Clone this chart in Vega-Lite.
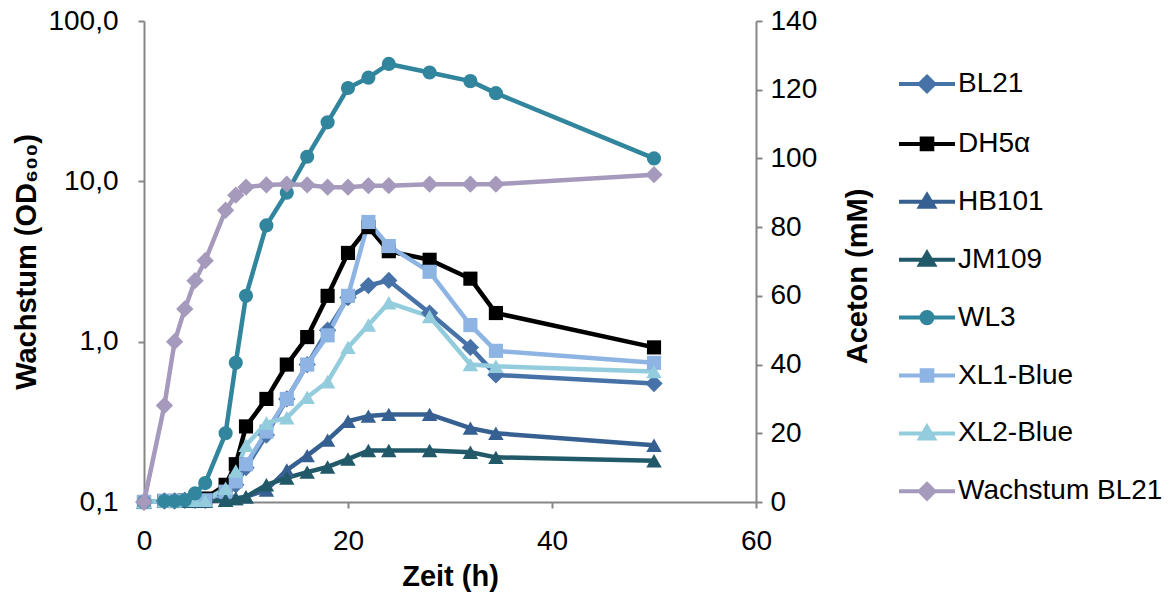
{
  "$schema": "https://vega.github.io/schema/vega-lite/v6.json",
  "width": 612,
  "height": 481,
  "autosize": {"type": "none"},
  "padding": {"left": 144, "top": 21, "right": 415, "bottom": 96},
  "background": "white",
  "config": {
    "view": {"stroke": null},
    "font": "Liberation Sans",
    "axis": {"domainColor": "#868686", "tickColor": "#868686", "domainWidth": 2, "tickWidth": 2, "tickSize": 6, "labelFont": "Liberation Sans", "labelFontSize": 28, "labelColor": "#000000", "titleFont": "Liberation Sans", "titleFontSize": 29, "titleFontWeight": "bold", "titleColor": "#000000", "grid": false, "labelFlush": false, "labelOverlap": false},
    "legend": {"orient": "none", "legendX": 753, "legendY": 33, "title": null, "padding": 0, "labelFont": "Liberation Sans", "labelFontSize": 28, "labelColor": "#000000", "labelOffset": 1, "rowPadding": 13.9, "symbolSize": 3136, "symbolStrokeWidth": 4, "symbolOpacity": 1, "labelLimit": 400}
  },
  "datasets": {
    "d": [
      {"s":"BL21","t":0,"v":0},{"s":"BL21","t":2,"v":0.3},{"s":"BL21","t":3,"v":0.3},{"s":"BL21","t":4,"v":0.5},{"s":"BL21","t":5,"v":0.5},{"s":"BL21","t":6,"v":0.5},{"s":"BL21","t":8,"v":2},{"s":"BL21","t":9,"v":5},{"s":"BL21","t":10,"v":10},{"s":"BL21","t":12,"v":19.5},{"s":"BL21","t":14,"v":30},{"s":"BL21","t":16,"v":40},{"s":"BL21","t":18,"v":50},{"s":"BL21","t":20,"v":59.5},{"s":"BL21","t":22,"v":63},{"s":"BL21","t":24,"v":64.5},{"s":"BL21","t":28,"v":55},{"s":"BL21","t":32,"v":45},{"s":"BL21","t":34.5,"v":37},{"s":"BL21","t":50,"v":34.5},
      {"s":"DH5α","t":0,"v":0},{"s":"DH5α","t":2,"v":0.3},{"s":"DH5α","t":3,"v":0.3},{"s":"DH5α","t":4,"v":0.5},{"s":"DH5α","t":5,"v":0.5},{"s":"DH5α","t":6,"v":1},{"s":"DH5α","t":8,"v":5},{"s":"DH5α","t":9,"v":11},{"s":"DH5α","t":10,"v":22},{"s":"DH5α","t":12,"v":30},{"s":"DH5α","t":14,"v":40},{"s":"DH5α","t":16,"v":48},{"s":"DH5α","t":18,"v":60},{"s":"DH5α","t":20,"v":72.5},{"s":"DH5α","t":22,"v":80},{"s":"DH5α","t":24,"v":73},{"s":"DH5α","t":28,"v":70.5},{"s":"DH5α","t":32,"v":65},{"s":"DH5α","t":34.5,"v":55},{"s":"DH5α","t":50,"v":45},
      {"s":"HB101","t":0,"v":0},{"s":"HB101","t":2,"v":0.3},{"s":"HB101","t":3,"v":0.3},{"s":"HB101","t":4,"v":0.3},{"s":"HB101","t":5,"v":0.3},{"s":"HB101","t":6,"v":0.3},{"s":"HB101","t":8,"v":0.5},{"s":"HB101","t":9,"v":1},{"s":"HB101","t":10,"v":1.5},{"s":"HB101","t":12,"v":3.5},{"s":"HB101","t":14,"v":9.3},{"s":"HB101","t":16,"v":13.5},{"s":"HB101","t":18,"v":18},{"s":"HB101","t":20,"v":23.5},{"s":"HB101","t":22,"v":25},{"s":"HB101","t":24,"v":25.5},{"s":"HB101","t":28,"v":25.5},{"s":"HB101","t":32,"v":21.5},{"s":"HB101","t":34.5,"v":20},{"s":"HB101","t":50,"v":16.5},
      {"s":"JM109","t":0,"v":0},{"s":"JM109","t":2,"v":0.3},{"s":"JM109","t":3,"v":0.3},{"s":"JM109","t":4,"v":0.3},{"s":"JM109","t":5,"v":0.3},{"s":"JM109","t":6,"v":0.3},{"s":"JM109","t":8,"v":0.5},{"s":"JM109","t":9,"v":1},{"s":"JM109","t":10,"v":1.5},{"s":"JM109","t":12,"v":5},{"s":"JM109","t":14,"v":7},{"s":"JM109","t":16,"v":8.7},{"s":"JM109","t":18,"v":10.2},{"s":"JM109","t":20,"v":12.5},{"s":"JM109","t":22,"v":15},{"s":"JM109","t":24,"v":15},{"s":"JM109","t":28,"v":15},{"s":"JM109","t":32,"v":14.5},{"s":"JM109","t":34.5,"v":13},{"s":"JM109","t":50,"v":12},
      {"s":"WL3","t":0,"v":0},{"s":"WL3","t":2,"v":0.3},{"s":"WL3","t":3,"v":0.3},{"s":"WL3","t":4,"v":0.5},{"s":"WL3","t":5,"v":2.5},{"s":"WL3","t":6,"v":5.5},{"s":"WL3","t":8,"v":20},{"s":"WL3","t":9,"v":40.5},{"s":"WL3","t":10,"v":60},{"s":"WL3","t":12,"v":80.5},{"s":"WL3","t":14,"v":90},{"s":"WL3","t":16,"v":100.5},{"s":"WL3","t":18,"v":110.5},{"s":"WL3","t":20,"v":120.5},{"s":"WL3","t":22,"v":123.5},{"s":"WL3","t":24,"v":127.5},{"s":"WL3","t":28,"v":125},{"s":"WL3","t":32,"v":122.5},{"s":"WL3","t":34.5,"v":119},{"s":"WL3","t":50,"v":100},
      {"s":"XL1-Blue","t":0,"v":0},{"s":"XL1-Blue","t":2,"v":0.3},{"s":"XL1-Blue","t":3,"v":0.3},{"s":"XL1-Blue","t":4,"v":0.5},{"s":"XL1-Blue","t":5,"v":0.5},{"s":"XL1-Blue","t":6,"v":0.5},{"s":"XL1-Blue","t":8,"v":3},{"s":"XL1-Blue","t":9,"v":6},{"s":"XL1-Blue","t":10,"v":11},{"s":"XL1-Blue","t":12,"v":20.5},{"s":"XL1-Blue","t":14,"v":30},{"s":"XL1-Blue","t":16,"v":40},{"s":"XL1-Blue","t":18,"v":48.5},{"s":"XL1-Blue","t":20,"v":60},{"s":"XL1-Blue","t":22,"v":81.5},{"s":"XL1-Blue","t":24,"v":74.5},{"s":"XL1-Blue","t":28,"v":67},{"s":"XL1-Blue","t":32,"v":51.5},{"s":"XL1-Blue","t":34.5,"v":44},{"s":"XL1-Blue","t":50,"v":40.5},
      {"s":"XL2-Blue","t":0,"v":0},{"s":"XL2-Blue","t":2,"v":0.3},{"s":"XL2-Blue","t":3,"v":0.3},{"s":"XL2-Blue","t":4,"v":0.5},{"s":"XL2-Blue","t":5,"v":0.5},{"s":"XL2-Blue","t":6,"v":0.5},{"s":"XL2-Blue","t":8,"v":4},{"s":"XL2-Blue","t":9,"v":9},{"s":"XL2-Blue","t":10,"v":16.5},{"s":"XL2-Blue","t":12,"v":23},{"s":"XL2-Blue","t":14,"v":24.5},{"s":"XL2-Blue","t":16,"v":30.5},{"s":"XL2-Blue","t":18,"v":35},{"s":"XL2-Blue","t":20,"v":45},{"s":"XL2-Blue","t":22,"v":51.5},{"s":"XL2-Blue","t":24,"v":58},{"s":"XL2-Blue","t":28,"v":54},{"s":"XL2-Blue","t":32,"v":40},{"s":"XL2-Blue","t":34.5,"v":39.5},{"s":"XL2-Blue","t":50,"v":38},
      {"s":"Wachstum BL21","t":0,"v":0.1},{"s":"Wachstum BL21","t":2,"v":0.4},{"s":"Wachstum BL21","t":3,"v":1.0},{"s":"Wachstum BL21","t":4,"v":1.6},{"s":"Wachstum BL21","t":5,"v":2.4},{"s":"Wachstum BL21","t":6,"v":3.2},{"s":"Wachstum BL21","t":8,"v":6.6},{"s":"Wachstum BL21","t":9,"v":8.2},{"s":"Wachstum BL21","t":10,"v":9.2},{"s":"Wachstum BL21","t":12,"v":9.5},{"s":"Wachstum BL21","t":14,"v":9.6},{"s":"Wachstum BL21","t":16,"v":9.5},{"s":"Wachstum BL21","t":18,"v":9.2},{"s":"Wachstum BL21","t":20,"v":9.2},{"s":"Wachstum BL21","t":22,"v":9.4},{"s":"Wachstum BL21","t":24,"v":9.4},{"s":"Wachstum BL21","t":28,"v":9.6},{"s":"Wachstum BL21","t":32,"v":9.6},{"s":"Wachstum BL21","t":34.5,"v":9.6},{"s":"Wachstum BL21","t":50,"v":11.0}
    ]
  },
  "data": {"name": "d"},
  "layer": [
    {
      "transform": [{"filter": "datum.s != 'Wachstum BL21'"}],
      "encoding": {
        "x": {"field": "t", "type": "quantitative", "scale": {"domain": [0, 60], "nice": false}, "axis": {"values": [0, 20, 40, 60], "title": "Zeit (h)", "labelPadding": 19, "titlePadding": 7}},
        "y": {"field": "v", "type": "quantitative", "scale": {"domain": [0, 140], "nice": false}, "axis": {"orient": "right", "values": [0, 20, 40, 60, 80, 100, 120, 140], "title": "Aceton (mM)", "labelPadding": 8, "titlePadding": 56, "titleAngle": 270, "titleY": 255}}
      },
      "layer": [
        {"mark": {"type": "line", "strokeWidth": 4.5, "strokeJoin": "round"},
         "encoding": {"color": {"field": "s", "type": "nominal", "legend": null, "scale": {"domain": ["Wachstum BL21", "BL21", "DH5α", "HB101", "JM109", "WL3", "XL1-Blue", "XL2-Blue"], "range": ["#A599BC", "#4672A8", "#000000", "#376092", "#215968", "#31859C", "#8EB4E3", "#93CDDD"]}}}},
        {"transform": [{"filter": {"field": "s", "oneOf": ["BL21"]}}],
         "mark": {"type": "point", "shape": "diamond", "filled": true, "size": 300, "opacity": 1},
         "encoding": {"color": {"field": "s", "type": "nominal", "legend": null}}},
        {"transform": [{"filter": {"field": "s", "oneOf": ["DH5α", "XL1-Blue"]}}],
         "mark": {"type": "point", "shape": "square", "filled": true, "size": 200, "opacity": 1},
         "encoding": {"color": {"field": "s", "type": "nominal", "legend": null}}},
        {"transform": [{"filter": {"field": "s", "oneOf": ["HB101", "JM109", "XL2-Blue"]}}],
         "mark": {"type": "point", "shape": "triangle-up", "filled": true, "size": 240, "opacity": 1},
         "encoding": {"color": {"field": "s", "type": "nominal", "legend": null}}},
        {"transform": [{"filter": {"field": "s", "oneOf": ["WL3"]}}],
         "mark": {"type": "point", "shape": "circle", "filled": true, "size": 200, "opacity": 1},
         "encoding": {"color": {"field": "s", "type": "nominal", "legend": null}}},
        {"mark": {"type": "point", "filled": true, "size": 3136, "opacity": 0, "strokeWidth": 4},
         "encoding": {
           "fill": {"field": "s", "type": "nominal", "scale": {"domain": ["BL21", "DH5α", "HB101", "JM109", "WL3", "XL1-Blue", "XL2-Blue", "Wachstum BL21"], "range": ["#4672A8", "#000000", "#376092", "#215968", "#31859C", "#8EB4E3", "#93CDDD", "#A599BC"]}},
           "stroke": {"field": "s", "type": "nominal", "scale": {"domain": ["BL21", "DH5α", "HB101", "JM109", "WL3", "XL1-Blue", "XL2-Blue", "Wachstum BL21"], "range": ["#4672A8", "#000000", "#376092", "#215968", "#31859C", "#8EB4E3", "#93CDDD", "#A599BC"]}},
           "shape": {"field": "s", "type": "nominal", "scale": {"domain": ["BL21", "DH5α", "HB101", "JM109", "WL3", "XL1-Blue", "XL2-Blue", "Wachstum BL21"], "range": [
             "M-1,0H1M0,-0.26L0.26,0L0,0.26L-0.26,0Z",
             "M-1,0H1M-0.19,-0.19H0.19V0.19H-0.19Z",
             "M-1,0H1M0,-0.24L0.25,0.18H-0.25Z",
             "M-1,0H1M0,-0.24L0.25,0.18H-0.25Z",
             "M-1,0H1M0.2,0A0.2,0.2,0,1,1,-0.2,0A0.2,0.2,0,1,1,0.2,0Z",
             "M-1,0H1M-0.19,-0.19H0.19V0.19H-0.19Z",
             "M-1,0H1M0,-0.24L0.25,0.18H-0.25Z",
             "M-1,0H1M0,-0.26L0.26,0L0,0.26L-0.26,0Z"]}}
         }}
      ]
    },
    {
      "transform": [{"filter": "datum.s == 'Wachstum BL21'"}],
      "encoding": {
        "x": {"field": "t", "type": "quantitative", "scale": {"domain": [0, 60], "nice": false}, "axis": {"values": [0, 20, 40, 60], "title": "Zeit (h)", "labelPadding": 19, "titlePadding": 7}},
        "y": {"field": "v", "type": "quantitative", "scale": {"type": "log", "domain": [0.1, 100], "nice": false}, "axis": {"orient": "left", "values": [0.1, 1, 10, 100], "labelExpr": "replace(format(datum.value, '.1f'), '.', ',')", "title": "Wachstum (OD₆₀₀)", "labelPadding": 20, "titlePadding": 6}},
        "color": {"field": "s", "type": "nominal", "legend": null}
      },
      "layer": [
        {"mark": {"type": "line", "strokeWidth": 4.5, "strokeJoin": "round"}},
        {"mark": {"type": "point", "shape": "diamond", "filled": true, "size": 300, "opacity": 1}}
      ]
    }
  ],
  "resolve": {"scale": {"y": "independent"}}
}
